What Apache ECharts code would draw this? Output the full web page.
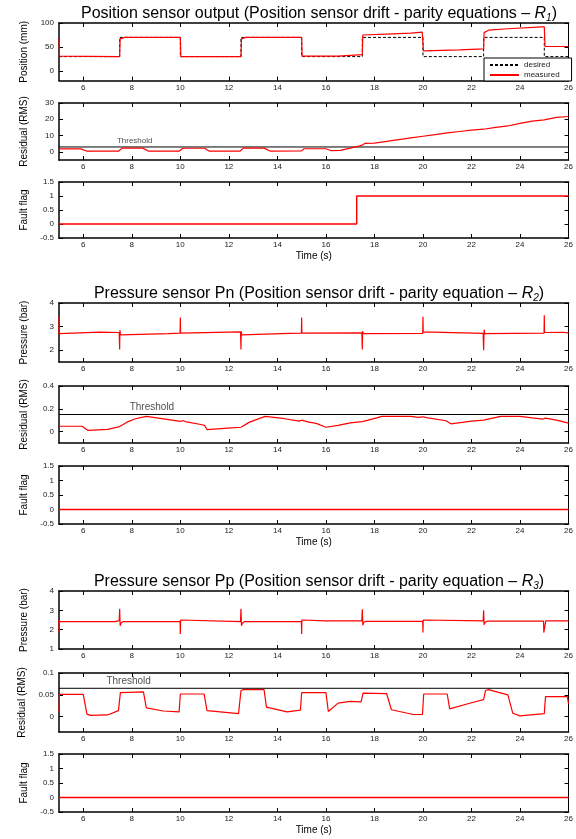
<!DOCTYPE html>
<html>
<head>
<meta charset="utf-8">
<title>Position sensor drift - parity equations</title>
<script src="https://cdn.jsdelivr.net/npm/echarts@6.0.0/dist/echarts.min.js"></script>
<style>
  html, body { margin: 0; padding: 0; background: #fff; }
  #chart { width: 576px; height: 839px; }
</style>
</head>
<body>
<div id="chart"></div>
<script>
// 时间轴刻度
const timeTicks = [6, 8, 10, 12, 14, 16, 18, 20, 22, 24, 26];

// R1: 位置传感器输出
const desiredT = [5, 7.5, 7.5, 10, 10, 12.5, 12.5, 15, 15, 17.5, 17.5, 20, 20, 22.5, 22.5, 25, 25, 26];
const desiredY = [30, 30, 70, 70, 30, 30, 70, 70, 30, 30, 70, 70, 30, 30, 70, 70, 30, 30];
const posT = [5, 5.02, 5.1, 7.5, 7.52, 7.7, 10, 10.02, 12.5, 12.52, 12.7, 15, 15.02, 16.5, 16.55, 17.5, 17.52, 18.5, 19.5, 19.97, 20, 20.02, 21.5, 22.5, 22.52, 22.7, 23.5, 24.9, 25, 25.03, 26];
const posY = [68, 31, 30, 30, 67, 70, 70, 30, 30, 67, 70, 70, 31, 31, 34, 34, 75, 77, 79, 81, 81, 42, 44, 46, 80, 85, 88, 92, 92, 51, 51];
const res1T = [5, 5.9, 6.15, 7.45, 7.6, 8.45, 8.7, 9.95, 10.1, 11, 11.2, 12.45, 12.6, 13.45, 13.7, 15, 15.1, 16, 16.2, 16.6, 17, 17.45, 17.6, 18, 18.5, 19, 19.5, 20, 20.5, 21, 21.5, 22, 22.5, 23, 23.5, 24, 24.5, 25, 25.5, 26];
const res1Y = [1.8, 1.8, 0.4, 0.4, 2.3, 2.3, 0.4, 0.4, 2.2, 2.2, 0.4, 0.4, 2.3, 2.3, 0.5, 0.6, 1.9, 1.9, 0.8, 0.9, 2.3, 3.8, 5.2, 5.4, 6.4, 7.5, 8.6, 9.6, 10.6, 11.7, 12.5, 13.3, 13.9, 15, 15.9, 17.5, 18.9, 19.6, 21.2, 21.7];
const flag1T = [5, 17.27, 17.27, 26];
const flag1Y = [0, 0, 1, 1];

// R2: 压力传感器 Pn
const pnT = [5, 5, 5.03, 6.7, 6.75, 7.48, 7.5, 7.51, 7.53, 7.6, 9.5, 9.99, 10, 10.01, 10.05, 12.48, 12.5, 12.51, 12.53, 12.6, 14.5, 14.99, 15, 15.01, 15.05, 17.48, 17.5, 17.51, 17.55, 19.99, 20, 20.01, 20.05, 22.48, 22.5, 22.52, 22.55, 24.99, 25, 25.01, 25.05, 25.8, 26];
const pnY = [3.43, 2.7, 2.77, 2.77, 2.74, 2.75, 2.03, 2.85, 2.65, 2.66, 2.7, 2.72, 3.38, 2.72, 2.8, 2.78, 2.03, 2.8, 2.65, 2.67, 2.71, 2.72, 3.38, 2.72, 2.77, 2.73, 2.03, 2.8, 2.7, 2.71, 3.42, 2.78, 2.73, 2.71, 2.0, 2.87, 2.7, 2.72, 3.48, 2.75, 2.78, 2.76, 2.72];
const res2T = [5, 5.95, 6.2, 7, 7.5, 7.8, 8.15, 8.6, 9.1, 10, 10.1, 10.2, 10.9, 11.0, 11.1, 12.1, 12.5, 12.85, 13.5, 14.3, 14.9, 15.0, 15.3, 15.6, 16, 16.5, 17, 17.5, 18.1, 18.3, 19.5, 19.8, 20, 20.2, 20.95, 21.15, 22, 22.5, 23.2, 24, 24.5, 24.95, 25.05, 25.5, 26];
const res2Y = [0.047, 0.047, 0.01, 0.02, 0.044, 0.083, 0.113, 0.133, 0.118, 0.089, 0.098, 0.088, 0.06, 0.055, 0.018, 0.033, 0.038, 0.083, 0.133, 0.113, 0.092, 0.1, 0.083, 0.072, 0.038, 0.055, 0.077, 0.087, 0.12, 0.133, 0.133, 0.125, 0.13, 0.12, 0.095, 0.068, 0.092, 0.1, 0.133, 0.133, 0.12, 0.11, 0.118, 0.1, 0.074];

// R3: 压力传感器 Pp
const ppT = [5, 5, 5.02, 7.3, 7.48, 7.5, 7.52, 7.56, 7.65, 9.99, 10, 10.01, 10.05, 12.48, 12.5, 12.52, 12.56, 12.65, 14.99, 15, 15.01, 15.05, 16, 17.48, 17.5, 17.52, 17.56, 17.65, 19.99, 20, 20.01, 20.05, 22.48, 22.5, 22.52, 22.56, 22.65, 24.97, 24.98, 25.04, 25.06, 26];
const ppY = [2.5, 1.85, 2.42, 2.42, 2.47, 3.08, 2.2, 2.35, 2.42, 2.42, 1.78, 2.5, 2.42, 2.42, 3.08, 2.2, 2.35, 2.42, 2.42, 1.78, 2.5, 2.42, 2.45, 2.45, 3.06, 2.23, 2.38, 2.43, 2.43, 1.85, 2.5, 2.43, 2.45, 3.0, 2.25, 2.38, 2.44, 2.44, 1.85, 1.85, 2.45, 2.45];
const res3T = [5, 5.02, 6.0, 6.15, 6.3, 7.0, 7.45, 7.53, 7.6, 8.48, 8.6, 9.3, 9.95, 10.0, 10.98, 11.1, 12.4, 12.5, 12.6, 13.45, 13.55, 14.4, 14.95, 15.0, 16.0, 16.1, 16.5, 17.0, 17.45, 17.53, 18.5, 18.7, 19.6, 19.98, 20.03, 21.0, 21.1, 22.0, 22.5, 22.58, 22.7, 23.5, 23.7, 24.0, 25.0, 25.05, 25.95, 26];
const res3Y = [0.01, 0.051, 0.051, 0.006, 0.003, 0.004, 0.014, 0.055, 0.057, 0.057, 0.02, 0.013, 0.011, 0.052, 0.052, 0.014, 0.007, 0.06, 0.062, 0.062, 0.022, 0.011, 0.015, 0.055, 0.055, 0.012, 0.031, 0.035, 0.034, 0.054, 0.053, 0.016, 0.005, 0.005, 0.052, 0.052, 0.018, 0.032, 0.039, 0.06, 0.062, 0.05, 0.008, 0.002, 0.007, 0.046, 0.046, 0.03];

// 无故障的标志
const flagZeroT = [5, 15, 26];
const flagZeroY = [0, 0, 0];

// 阈值
const thresholds = [3, 0.15, 0.065];
const thresholdLabelT = [8.12, 8.83, 7.87];

// 纵轴刻度
const posTicks = [0, 50, 100];
const res1Ticks = [0, 10, 20, 30];
const flagTicks = [-0.5, 0, 0.5, 1, 1.5];
const pnTicks = [2, 3, 4];
const res2Ticks = [0, 0.2, 0.4];
const ppTicks = [1, 2, 3, 4];
const res3Ticks = [0, 0.05, 0.1];

const FONT = '"Liberation Sans", Arial, sans-serif';
const RED = '#ff0000';

// 面板布局
const panels = [
    { top: 23, h: 57.6, min: -20, max: 100, ticks: posTicks, name: 'Position (mm)' },
    { top: 103, h: 57, min: -5, max: 30, ticks: res1Ticks, name: 'Residual (RMS)' },
    { top: 182, h: 56, min: -0.5, max: 1.5, ticks: flagTicks, name: 'Fault flag', time: true },
    { top: 303, h: 59, min: 1.5, max: 4, ticks: pnTicks, name: 'Pressure (bar)' },
    { top: 386, h: 57, min: -0.1, max: 0.4, ticks: res2Ticks, name: 'Residual (RMS)' },
    { top: 466, h: 58, min: -0.5, max: 1.5, ticks: flagTicks, name: 'Fault flag', time: true },
    { top: 591, h: 58, min: 1, max: 4, ticks: ppTicks, name: 'Pressure (bar)' },
    { top: 673, h: 59, min: -0.035, max: 0.1, ticks: res3Ticks, name: 'Residual (RMS)' },
    { top: 754, h: 58, min: -0.5, max: 1.5, ticks: flagTicks, name: 'Fault flag', time: true }
];

function zip(t, y) {
    return t.map((v, i) => [v, y[i]]);
}

const grids = [];
const xAxes = [];
const yAxes = [];

panels.forEach((p, i) => {
    grids.push({ left: 59, right: 6, top: p.top, height: p.h });

    const tick = { inside: true, length: 4, lineStyle: { color: '#000', width: 1 } };
    const xBase = {
        gridIndex: i, type: 'value', min: 5, max: 26,
        splitLine: { show: false },
        axisLine: { onZero: false, lineStyle: { color: '#000', width: 1.5 } },
        axisTick: Object.assign({ customValues: timeTicks }, tick)
    };
    xAxes.push(Object.assign({}, xBase, {
        position: 'bottom',
        axisLabel: { customValues: timeTicks, fontSize: 8, margin: 3, color: '#222', fontFamily: FONT },
        name: p.time ? 'Time (s)' : '',
        nameLocation: 'middle',
        nameGap: 13,
        nameTextStyle: { fontSize: 10, color: '#000', fontFamily: FONT }
    }));
    xAxes.push(Object.assign({}, xBase, { position: 'top', axisLabel: { show: false } }));

    const yBase = {
        gridIndex: i, type: 'value', min: p.min, max: p.max,
        splitLine: { show: false },
        axisTick: Object.assign({ customValues: p.ticks }, tick)
    };
    yAxes.push(Object.assign({}, yBase, {
        position: 'left',
        axisLine: { onZero: false, lineStyle: { color: '#000', width: 1.5 } },
        axisLabel: { customValues: p.ticks, fontSize: 8, margin: 5, color: '#222', fontFamily: FONT },
        name: p.name,
        nameLocation: 'middle',
        nameGap: 30,
        nameTextStyle: { fontSize: 10, color: '#000', fontFamily: FONT }
    }));
    yAxes.push(Object.assign({}, yBase, {
        position: 'right',
        axisLine: { onZero: false, lineStyle: { color: '#000', width: 1 } },
        axisLabel: { show: false }
    }));
});

function lineSeries(name, panel, data, color, width, dashed) {
    return {
        name: name, type: 'line',
        xAxisIndex: panel * 2, yAxisIndex: panel * 2,
        data: data, symbol: 'none', showSymbol: false,
        lineStyle: { color: color, width: width, type: dashed ? [3, 2] : 'solid' },
        itemStyle: { color: color },
        z: 3,
        silent: true
    };
}

function thresholdSeries(panel, k, fontSize) {
    const v = thresholds[k];
    const s = lineSeries('threshold', panel, [[5, v], [26, v]], '#000', 1);
    s.z = 2;
    return [
        s,
        {
            type: 'scatter', xAxisIndex: panel * 2, yAxisIndex: panel * 2,
            data: [[thresholdLabelT[k], v]], symbolSize: 1,
            itemStyle: { color: 'rgba(0,0,0,0)' },
            label: { show: true, position: 'top', distance: 2, formatter: 'Threshold', fontSize: fontSize, color: '#222', fontFamily: FONT },
            silent: true
        }
    ];
}

const series = [].concat(
    lineSeries('desired', 0, zip(desiredT, desiredY), '#000', 1, true),
    lineSeries('measured', 0, zip(posT, posY), RED, 1.2),
    thresholdSeries(1, 0, 8),
    lineSeries('r1', 1, zip(res1T, res1Y), RED, 1.2),
    lineSeries('f1', 2, zip(flag1T, flag1Y), RED, 1.4),
    lineSeries('pn', 3, zip(pnT, pnY), RED, 1.2),
    thresholdSeries(4, 1, 10),
    lineSeries('r2', 4, zip(res2T, res2Y), RED, 1.2),
    lineSeries('f2', 5, zip(flagZeroT, flagZeroY), RED, 1.4),
    lineSeries('pp', 6, zip(ppT, ppY), RED, 1.2),
    thresholdSeries(7, 2, 10),
    lineSeries('r3', 7, zip(res3T, res3Y), RED, 1.2),
    lineSeries('f3', 8, zip(flagZeroT, flagZeroY), RED, 1.4)
);

function titleAt(top, text) {
    return {
        text: text, left: 314, top: top, textAlign: 'center',
        textStyle: {
            fontSize: 16, fontWeight: 'normal', color: '#000', fontFamily: FONT,
            rich: {
                i: { fontSize: 16, fontStyle: 'italic', color: '#000', fontFamily: FONT },
                s: { fontSize: 10, fontStyle: 'italic', color: '#000', fontFamily: FONT, padding: [8, 0, 0, 0] }
            }
        }
    };
}

const option = {
    animation: false,
    backgroundColor: '#fff',
    title: [
        titleAt(0, 'Position sensor output (Position sensor drift - parity equations \u2013 {i|R}{s|1})'),
        titleAt(280, 'Pressure sensor Pn (Position sensor drift - parity equation \u2013 {i|R}{s|2})'),
        titleAt(568, 'Pressure sensor Pp (Position sensor drift - parity equation \u2013 {i|R}{s|3})')
    ],
    legend: {
        data: ['desired', 'measured'],
        left: 484, top: 58, orient: 'vertical',
        itemWidth: 29, itemHeight: 8, itemGap: 2,
        padding: [3, 12, 2, 5],
        itemStyle: { opacity: 0 },
        borderColor: '#000', borderWidth: 1, borderRadius: 0,
        backgroundColor: '#fff',
        textStyle: { fontSize: 8, color: '#222', fontFamily: FONT }
    },
    grid: grids,
    xAxis: xAxes,
    yAxis: yAxes,
    series: series
};

const chart = echarts.init(document.getElementById('chart'));
chart.setOption(option);
</script>
</body>
</html>
